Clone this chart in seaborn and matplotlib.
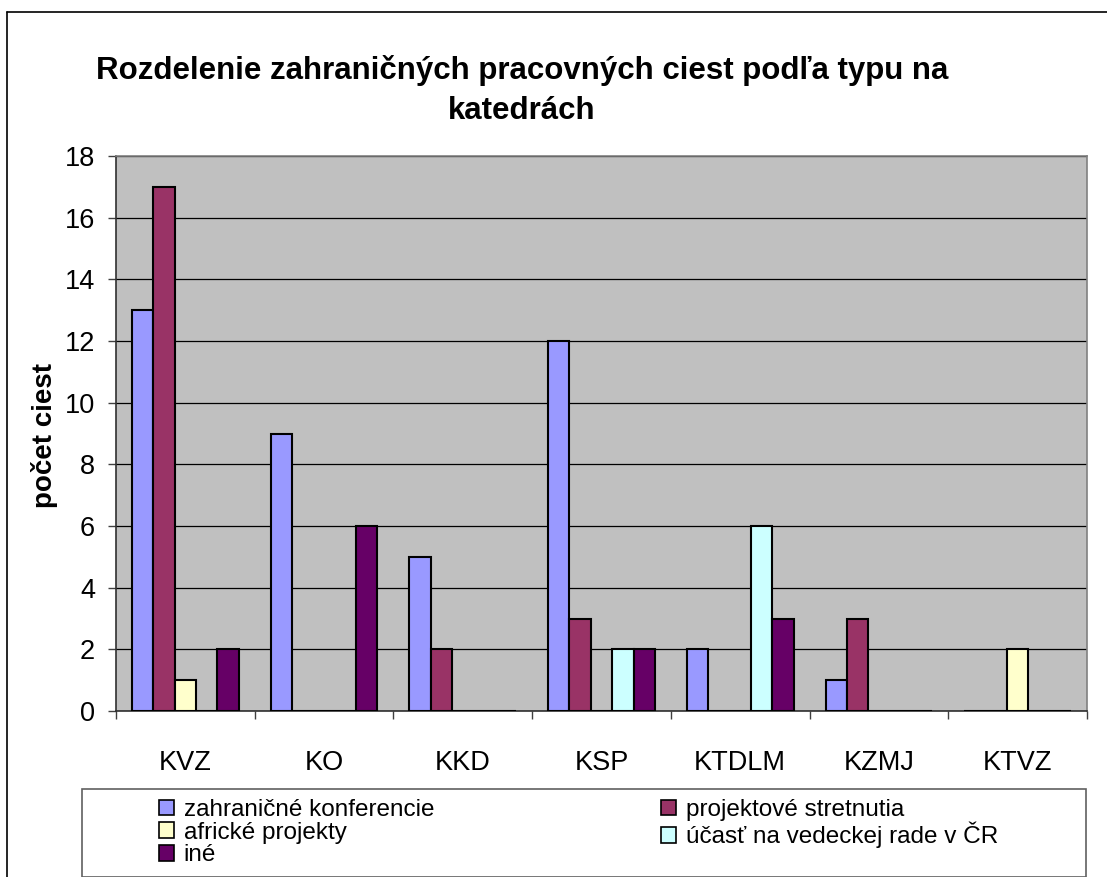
import matplotlib
matplotlib.use("Agg")
import matplotlib.pyplot as plt
import seaborn as sns
import pandas as pd
from matplotlib.patches import Rectangle, Patch
from matplotlib.lines import Line2D

categories = ["KVZ", "KO", "KKD", "KSP", "KTDLM", "KZMJ", "KTVZ"]
series_names = ["zahraničné konferencie", "projektové stretnutia", "africké projekty",
                "účasť na vedeckej rade v ČR", "iné"]
zahranicne = [13, 9, 5, 12, 2, 1, 0]
projektove = [17, 0, 2, 3, 0, 3, 0]
africke = [1, 0, 0, 0, 0, 0, 2]
ucast = [0, 0, 0, 2, 6, 0, 0]
ine = [2, 6, 0, 2, 3, 0, 0]
colors = ["#9999FF", "#993366", "#FFFFCC", "#CCFFFF", "#660066"]
yticks = list(range(0, 19, 2))

rows = []
for name, vals in zip(series_names, [zahranicne, projektove, africke, ucast, ine]):
    for c, v in zip(categories, vals):
        rows.append({"katedra": c, "typ": name, "pocet": v})
df = pd.DataFrame(rows)

sns.set_style("white")
plt.rcParams['font.family'] = ['Liberation Sans', 'DejaVu Sans']
plt.rcParams['text.color'] = 'black'
plt.rcParams['axes.labelcolor'] = 'black'
plt.rcParams['xtick.color'] = 'black'
plt.rcParams['ytick.color'] = 'black'

W, H = 1107, 877
fig = plt.figure(figsize=(W / 100, H / 100), dpi=100)
fig.patch.set_facecolor("white")

def fx(px):
    return px / W

def fy(py):
    return 1 - py / H

ax = fig.add_axes([fx(116), fy(711), fx(1087) - fx(116), fy(156) - fy(711)])
ax.set_facecolor("#C0C0C0")

sns.barplot(data=df, x="katedra", y="pocet", hue="typ", order=categories,
            hue_order=series_names, palette=colors, width=5 / 6.5, gap=0,
            edgecolor="black", linewidth=1.5, legend=False, ax=ax, zorder=3,
            saturation=1)

ax.set_ylim(0, 18)
ax.set_xlim(-0.5, len(categories) - 0.5)
ax.set_yticks(yticks)
ax.set_yticklabels([str(t) for t in yticks], fontsize=19.5, color="black")
ax.yaxis.grid(True, color="black", linewidth=0.9, zorder=1)
ax.set_axisbelow(True)
ax.tick_params(axis="y", direction="out", length=6, width=1, color="#404040",
               labelcolor="black", pad=9, left=True)

ax.set_xticks(range(len(categories)))
ax.set_xticklabels(categories, fontsize=19.5, color="black")
ax.tick_params(axis="x", which="major", length=0, pad=28, labelcolor="black")
ax.set_xticks([i - 0.5 for i in range(len(categories) + 1)], minor=True)
ax.tick_params(axis="x", which="minor", direction="out", length=5.5, width=1,
               color="#404040", bottom=True)

ax.set_xlabel("")
ax.set_ylabel("")
for s in ["top", "right"]:
    ax.spines[s].set_color("#808080")
    ax.spines[s].set_linewidth(1.2)
for s in ["left", "bottom"]:
    ax.spines[s].set_color("#303030")
    ax.spines[s].set_linewidth(1.2)

# title and y label
fig.text(fx(522), fy(71), "Rozdelenie zahraničných pracovných ciest podľa typu na",
         ha="center", va="center", fontsize=22.5, fontweight="bold", color="black")
fig.text(fx(522), fy(111), "katedrách", ha="center", va="center",
         fontsize=22.5, fontweight="bold", color="black")
fig.text(fx(44), fy(436), "počet ciest", ha="center", va="center", rotation=90,
         fontsize=20, fontweight="bold", color="black")

# legend box
fig.patches.append(Rectangle((fx(82), fy(877)), fx(1086) - fx(82), fy(789) - fy(877),
                             transform=fig.transFigure, facecolor="white",
                             edgecolor="#606060", linewidth=1.2, zorder=0))

handles = [Patch(facecolor=c, edgecolor="black", linewidth=1.2) for c in colors]
leg_kw = dict(frameon=False, fontsize=17.5, handlelength=0.62, handleheight=0.62,
              handletextpad=0.4, labelspacing=0.03, borderpad=0, borderaxespad=0,
              loc="upper left", bbox_transform=fig.transFigure, labelcolor="black")
leg1 = fig.legend([handles[0], handles[2], handles[4]],
                  [series_names[0], series_names[2], series_names[4]],
                  bbox_to_anchor=(fx(159), fy(799)), **leg_kw)
leg2 = fig.legend([handles[1], handles[3]], [series_names[1], series_names[3]],
                  bbox_to_anchor=(fx(661), fy(799)), **leg_kw)

# outer chart border (cut off at right and bottom)
fig.lines.append(Line2D([fx(7), fx(7)], [fy(12), 0], transform=fig.transFigure,
                        color="black", linewidth=1.2))
fig.lines.append(Line2D([fx(7), 1], [fy(12), fy(12)], transform=fig.transFigure,
                        color="black", linewidth=1.2))

fig.savefig("out.png", dpi=100)
